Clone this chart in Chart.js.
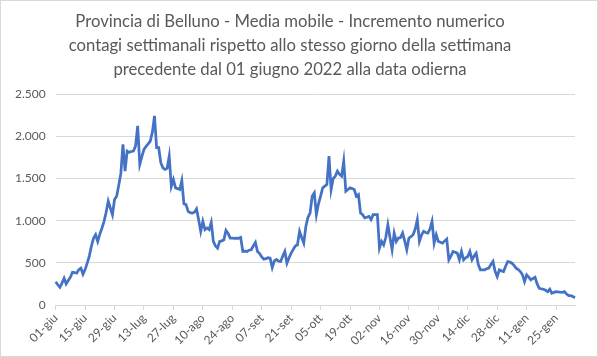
<!DOCTYPE html>
<html>
<head>
<meta charset="utf-8">
<script src="https://cdn.jsdelivr.net/npm/chart.js@4.4.1/dist/chart.umd.min.js"></script>
<style>
html,body{margin:0;padding:0;background:#fff;}
#wrap{position:absolute;left:0;top:0;width:596px;height:355px;border:1px solid #d9d9d9;background:#fff;}
canvas{display:block;}
</style>
</head>
<body>
<div id="wrap"><canvas id="c" width="596" height="355"></canvas></div>
<script>
const titleLines = [
  "Provincia di Belluno - Media mobile - Incremento numerico",
  "contagi settimanali rispetto allo stesso giorno della settimana",
  "precedente dal 01 giugno 2022 alla data odierna"
];
const monthNames = ["gen","feb","mar","apr","mag","giu","lug","ago","set","ott","nov","dic"];
const startDate = [2022, 5, 1]; // 01 giugno 2022
const tickLabels = ["01-giu","15-giu","29-giu","13-lug","27-lug","10-ago","24-ago","07-set","21-set","05-ott","19-ott","02-nov","16-nov","30-nov","14-dic","28-dic","11-gen","25-gen"];
const values = [
 277,240,210,260,318,250,290,330,389,385,
 377,420,437,365,420,496,580,700,790,833,
 754,840,910,992,1100,1230,1150,1071,1250,1290,
 1420,1560,1905,1587,1825,1810,1820,1825,1885,2123,
 1667,1760,1845,1880,1910,1944,2050,2242,1865,1865,
 1687,1627,1607,1620,1765,1408,1488,1389,1380,1369,
 1476,1200,1190,1111,1095,1091,1100,1139,1012,873,
 992,893,913,893,980,754,700,675,754,760,
 774,885,850,794,794,790,794,790,800,635,
 640,635,650,655,700,742,635,610,570,544,
 550,560,556,444,524,540,520,516,580,635,
 496,560,615,660,700,714,873,800,734,932,
 1040,1091,1290,1329,1071,1200,1290,1389,1410,1429,
 1765,1369,1500,1528,1587,1550,1528,1706,1349,1370,
 1389,1380,1369,1290,1309,1091,1071,1032,1040,1051,
 1012,1071,1071,1071,675,754,714,800,952,800,
 655,853,754,794,800,853,760,655,794,810,
 833,900,1012,754,830,873,860,853,900,992,
 734,833,754,745,734,760,782,536,580,635,
 625,615,536,635,536,560,575,635,536,580,
 615,480,417,417,417,430,437,480,516,400,
 337,417,405,397,460,516,510,496,470,437,
 420,397,360,278,357,330,298,315,329,250,
 198,192,187,175,159,187,139,150,159,155,
 152,151,159,130,111,111,100,87
];

const categories = values.map((v, i) => {
  const d = new Date(startDate[0], startDate[1], startDate[2] + i);
  return String(d.getDate()).padStart(2, "0") + "-" + monthNames[d.getMonth()];
});

function itFmt(v){ return String(v).replace(/\B(?=(\d{3})+(?!\d))/g, "."); }

const FONT = "Lato, 'Open Sans', sans-serif";
new Chart(document.getElementById("c"), {
  type: "line",
  data: {
    labels: categories,
    datasets: [{
      data: values,
      borderColor: "#4472C4",
      borderWidth: 2.75,
      pointRadius: 0,
      tension: 0,
      fill: false
    }]
  },
  options: {
    responsive: false,
    animation: false,
    events: [],
    layout: { padding: { left: 4, right: 22, top: 5, bottom: 7 } },
    plugins: {
      legend: { display: false },
      tooltip: { enabled: false },
      title: {
        display: true,
        text: titleLines,
        color: "#595959",
        font: { family: FONT, size: 16.7, weight: "normal", lineHeight: 1.43 },
        padding: { top: 4, bottom: 12.5 }
      }
    },
    scales: {
      x: {
        type: "category",
        offset: false,
        border: { display: true, color: "#d9d9d9", width: 1 },
        grid: { drawOnChartArea: false, drawTicks: true, tickLength: 5, color: "#d9d9d9" },
        ticks: {
          autoSkip: false,
          maxRotation: 45,
          minRotation: 45,
          color: "#595959",
          font: { family: FONT, size: 12 },
          padding: 1,
          callback: function(val, idx) {
            const lab = categories[idx];
            return tickLabels.includes(lab) ? lab : null;
          }
        }
      },
      y: {
        min: 0,
        max: 2500,
        border: { display: false },
        grid: { color: "#d9d9d9", drawTicks: false, lineWidth: 1 },
        ticks: {
          stepSize: 500,
          color: "#595959",
          font: { family: FONT, size: 12 },
          padding: 10,
          callback: v => itFmt(v)
        }
      }
    }
  }
});
</script>
</body>
</html>
